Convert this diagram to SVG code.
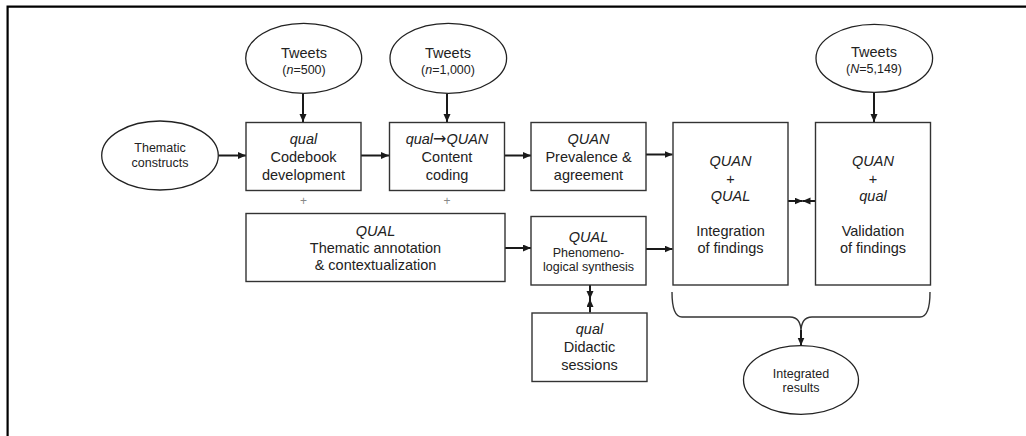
<svg xmlns="http://www.w3.org/2000/svg" width="1026" height="436" viewBox="0 0 1026 436">
<defs>
<marker id="ah" markerUnits="userSpaceOnUse" markerWidth="9" markerHeight="8" refX="8" refY="3.5" orient="auto">
<path d="M0,0 L8,3.5 L0,7 z" fill="#1a1a1a"/>
</marker>
</defs>
<style>
text{font-family:"Liberation Sans",Arial,sans-serif;fill:#222;text-anchor:middle}
.t{font-size:14.5px}
.s{font-size:12.5px}
.i{font-style:italic}
.arr{font-family:"DejaVu Sans",sans-serif;font-size:16px;font-style:normal}
.box{fill:#fff;stroke:#333;stroke-width:1.4}
.ell{fill:#fff;stroke:#222;stroke-width:1.3}
.con line,.con path.a{stroke:#1a1a1a;stroke-width:2;fill:none}
.brace{stroke:#333;stroke-width:1.4;fill:none}
.plus{fill:#888;font-size:12px}
</style>
<rect width="1026" height="436" fill="#fff"/>
<g id="frame" stroke="#000" stroke-width="2.2" fill="none">
<path d="M7.6,436 L7.6,6.6 L1026,6.6"/>
</g>

<g class="con">
<line x1="303" y1="93.5" x2="303" y2="122" marker-end="url(#ah)"/>
<line x1="447" y1="93.5" x2="447" y2="122" marker-end="url(#ah)"/>
<line x1="874" y1="92.5" x2="874" y2="122" marker-end="url(#ah)"/>
<line x1="218.5" y1="155.5" x2="246" y2="155.5" marker-end="url(#ah)"/>
<line x1="361" y1="155.5" x2="389" y2="155.5" marker-end="url(#ah)"/>
<line x1="505" y1="155.5" x2="531" y2="155.5" marker-end="url(#ah)"/>
<line x1="646" y1="154.5" x2="672.5" y2="154.5" marker-end="url(#ah)"/>
<line x1="505" y1="248" x2="531" y2="248" marker-end="url(#ah)"/>
<line x1="646" y1="249" x2="672.5" y2="249" marker-end="url(#ah)"/>
<line x1="788" y1="201" x2="802.5" y2="201" marker-end="url(#ah)"/>
<line x1="815.5" y1="201" x2="802.5" y2="201" marker-end="url(#ah)"/>
<line x1="590" y1="285" x2="590" y2="299" marker-end="url(#ah)"/>
<line x1="590" y1="312.5" x2="590" y2="299" marker-end="url(#ah)"/>
<path class="brace" d="M672,292 Q672,317 682,317 L790,317 Q801,317 801,332 Q801,317 812,317 L920,317 Q930,317 930,292"/>
<line x1="801" y1="330" x2="801" y2="345.5" marker-end="url(#ah)"/>
</g>

<text class="plus" x="303.5" y="205">+</text>
<text class="plus" x="447" y="205">+</text>

<g id="tweets500">
<ellipse class="ell" cx="303.7" cy="58.3" rx="58" ry="35"/>
<text class="t" x="304" y="57.5">Tweets</text>
<text class="s" x="304" y="73.5">(<tspan class="i">n</tspan>=500)</text>
</g>
<g id="tweets1000">
<ellipse class="ell" cx="448.3" cy="58.3" rx="58.3" ry="35"/>
<text class="t" x="448" y="57.5">Tweets</text>
<text class="s" x="448" y="73.5">(<tspan class="i">n</tspan>=1,000)</text>
</g>
<g id="tweets5149">
<ellipse class="ell" cx="874.3" cy="58.3" rx="58.3" ry="34"/>
<text class="t" x="874" y="57">Tweets</text>
<text class="s" x="874" y="72.5">(<tspan class="i">N</tspan>=5,149)</text>
</g>
<g id="thematic">
<ellipse class="ell" cx="160" cy="155.5" rx="58.3" ry="34.5"/>
<text class="s" x="160" y="151.5">Thematic</text>
<text class="s" x="160" y="166.5">constructs</text>
</g>

<g id="codebook">
<rect class="box" x="246" y="122.5" width="115" height="68"/>
<text class="t i" x="303.5" y="144">qual</text>
<text class="t" x="303.5" y="162">Codebook</text>
<text class="t" x="303.5" y="180">development</text>
</g>
<g id="content">
<rect class="box" x="389.5" y="122.5" width="115" height="68"/>
<text class="t" x="447" y="144"><tspan class="i">qual</tspan><tspan class="arr">→</tspan><tspan class="i">QUAN</tspan></text>
<text class="t" x="447" y="162">Content</text>
<text class="t" x="447" y="180">coding</text>
</g>
<g id="prevalence">
<rect class="box" x="531" y="122.5" width="115" height="68"/>
<text class="t i" x="588.5" y="144">QUAN</text>
<text class="t" x="588.5" y="162">Prevalence &amp;</text>
<text class="t" x="588.5" y="180">agreement</text>
</g>
<g id="integration">
<rect class="box" x="673" y="122.5" width="115" height="162.5"/>
<text class="t i" x="730.5" y="166">QUAN</text>
<text class="t" x="730.5" y="183.5">+</text>
<text class="t i" x="730.5" y="201">QUAL</text>
<text class="t" x="730.5" y="235.5">Integration</text>
<text class="t" x="730.5" y="253">of findings</text>
</g>
<g id="validation">
<rect class="box" x="815.5" y="122.5" width="115" height="162.5"/>
<text class="t i" x="873" y="166">QUAN</text>
<text class="t" x="873" y="183.5">+</text>
<text class="t i" x="873" y="201">qual</text>
<text class="t" x="873" y="235.5">Validation</text>
<text class="t" x="873" y="253">of findings</text>
</g>
<g id="annotation">
<rect class="box" x="246" y="213.5" width="259" height="68"/>
<text class="t i" x="375.5" y="236">QUAL</text>
<text class="t" x="375.5" y="253">Thematic annotation</text>
<text class="t" x="375.5" y="270">&amp; contextualization</text>
</g>
<g id="phenomeno">
<rect class="box" x="531" y="216.5" width="115" height="68.5"/>
<text class="t i" x="588.5" y="242">QUAL</text>
<text class="s" x="588.5" y="256.5">Phenomeno-</text>
<text class="s" x="588.5" y="270.5">logical synthesis</text>
</g>
<g id="didactic">
<rect class="box" x="532" y="313" width="115" height="68.5"/>
<text class="t i" x="589.5" y="334">qual</text>
<text class="t" x="589.5" y="352">Didactic</text>
<text class="t" x="589.5" y="369.5">sessions</text>
</g>
<g id="integrated">
<ellipse class="ell" cx="801" cy="380" rx="57.5" ry="34.3"/>
<text class="s" x="801" y="377.5">Integrated</text>
<text class="s" x="801" y="391.5">results</text>
</g>
</svg>
